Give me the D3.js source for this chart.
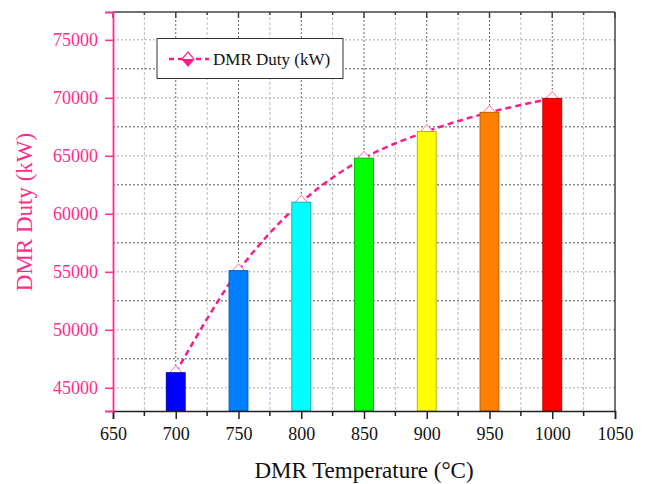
<!DOCTYPE html>
<html>
<head>
<meta charset="utf-8">
<script src="https://cdn.jsdelivr.net/npm/d3@7"></script>
<style>
  body { margin: 0; background: #fff; }
  svg { display: block; }
  text { font-family: "Liberation Serif", "Times New Roman", serif; }
</style>
</head>
<body>
<svg id="chart" width="646" height="484"></svg>
<script>
// ---- data ----
const temperatures = [700, 750, 800, 850, 900, 950, 1000];
const duty = [46300, 55100, 61000, 64800, 67100, 68750, 69950];
const barColors = ["#0000FF", "#0080FF", "#00FFFF", "#00FF00", "#FFFF00", "#FF8000", "#FF0000"];
const xTicks = [650, 700, 750, 800, 850, 900, 950, 1000, 1050];
const yTicks = [45000, 50000, 55000, 60000, 65000, 70000, 75000];
const seriesName = "DMR Duty (kW)";
const xTitle = "DMR Temperature (°C)";
const yTitle = "DMR Duty (kW)";

// ---- layout ----
const W = 646, H = 484;
const m = { left: 113, right: 31, top: 12, bottom: 73 };
const pw = W - m.left - m.right, ph = H - m.top - m.bottom;
const pink = "#FF2D8C";
const lineColor = "#FF1A8C";
const serif = '"Liberation Serif", "Times New Roman", serif';
const barWidthUnits = 15;

const svg = d3.select("#chart");
const g = svg.append("g").attr("transform", `translate(${m.left},${m.top})`);

const x = d3.scaleLinear().domain([650, 1050]).range([0, pw]);
const y = d3.scaleLinear().domain([43000, 77400]).range([ph, 0]);

const xMinor = d3.range(675, 1050, 50);
const yMinor = d3.range(47500, 77400, 5000);

// grid
const grid = g.append("g");
grid.selectAll(".hmaj").data(yTicks).join("line")
  .attr("x1", 0).attr("x2", pw).attr("y1", d => y(d)).attr("y2", d => y(d))
  .attr("stroke", "#aaa").attr("stroke-width", 1).attr("stroke-dasharray", "2,2");
grid.selectAll(".hmin").data(yMinor).join("line")
  .attr("x1", 0).attr("x2", pw).attr("y1", d => y(d)).attr("y2", d => y(d))
  .attr("stroke", "#555").attr("stroke-width", 1).attr("stroke-dasharray", "2,2");
grid.selectAll(".vmaj").data(xTicks.slice(1, -1)).join("line")
  .attr("y1", 0).attr("y2", ph).attr("x1", d => x(d)).attr("x2", d => x(d))
  .attr("stroke", "#666").attr("stroke-width", 1).attr("stroke-dasharray", "2,2");
grid.selectAll(".vmin").data(xMinor).join("line")
  .attr("y1", 0).attr("y2", ph).attr("x1", d => x(d)).attr("x2", d => x(d))
  .attr("stroke", "#bbb").attr("stroke-width", 1).attr("stroke-dasharray", "3,2");

// line (behind bars)
const pts = temperatures.map((t, i) => [t, duty[i]]);
const line = d3.line().x(d => x(d[0])).y(d => y(d[1])).curve(d3.curveCatmullRom.alpha(0.5));
g.append("path").datum(pts).attr("d", line)
  .attr("fill", "none").attr("stroke", lineColor).attr("stroke-width", 2.5)
  .attr("stroke-dasharray", "6,4");

// markers
const diamond = "M0,-7L6,0L0,7L-6,0Z";
g.selectAll(".mk").data(pts).join("path")
  .attr("transform", d => `translate(${x(d[0])},${y(d[1])})`)
  .attr("d", diamond).attr("fill", "#fff").attr("stroke", "#FF6FB0").attr("stroke-width", 1);

// bars
const bw = x(650 + barWidthUnits) - x(650);
g.selectAll(".bar").data(pts).join("rect")
  .attr("x", d => x(d[0]) - bw / 2).attr("width", bw)
  .attr("y", d => y(d[1])).attr("height", d => ph - y(d[1]))
  .attr("fill", (d, i) => barColors[i])
  .attr("stroke", (d, i) => d3.color(barColors[i]).darker(0.9))
  .attr("stroke-width", 1);

// borders
g.append("line").attr("x1", 0).attr("x2", pw).attr("y1", 0).attr("y2", 0).attr("stroke", "#444").attr("stroke-width", 1.5);
g.append("line").attr("x1", pw).attr("x2", pw).attr("y1", 0).attr("y2", ph).attr("stroke", "#444").attr("stroke-width", 1.5);

// top inward ticks
g.selectAll(".ttmaj").data(xTicks).join("line")
  .attr("x1", d => x(d)).attr("x2", d => x(d)).attr("y1", 0).attr("y2", 6)
  .attr("stroke", "#444").attr("stroke-width", 1.5);
g.selectAll(".ttmin").data(xMinor).join("line")
  .attr("x1", d => x(d)).attr("x2", d => x(d)).attr("y1", 0).attr("y2", 3)
  .attr("stroke", "#444").attr("stroke-width", 1.5);

// bottom axis
const xAxis = g.append("g").attr("transform", `translate(0,${ph})`)
  .call(d3.axisBottom(x).tickValues(xTicks).tickSize(8).tickPadding(8).tickFormat(d3.format("d")));
xAxis.attr("font-family", null);
xAxis.select(".domain").attr("stroke", "#222").attr("stroke-width", 1.5);
xAxis.selectAll(".tick line").attr("stroke", "#222").attr("stroke-width", 1.5);
xAxis.selectAll("text").style("font-size", "18px").attr("fill", "#111")
  .style("font-family", serif);
g.append("g").attr("transform", `translate(0,${ph})`)
  .selectAll("line").data(xMinor).join("line")
  .attr("x1", d => x(d)).attr("x2", d => x(d)).attr("y1", 0).attr("y2", 5)
  .attr("stroke", "#222").attr("stroke-width", 1.5);

// left axis
const yAxis = g.append("g")
  .call(d3.axisLeft(y).tickValues(yTicks).tickSize(8).tickPadding(7).tickFormat(d3.format("d")));
yAxis.attr("font-family", null);
yAxis.select(".domain").attr("stroke", pink).attr("stroke-width", 1.8);
yAxis.selectAll(".tick line").attr("stroke", pink).attr("stroke-width", 1.5);
yAxis.selectAll("text").style("font-size", "18px").attr("fill", pink)
  .style("font-family", serif);

// titles
svg.append("text").attr("x", m.left + pw / 2).attr("y", 478)
  .attr("text-anchor", "middle").style("font-size", "23px").attr("fill", "#111").text(xTitle);
svg.append("text").attr("transform", `translate(32,${212}) rotate(-90)`)
  .attr("text-anchor", "middle").style("font-size", "23px").attr("fill", pink).text(yTitle);

// legend
const lg = svg.append("g");
lg.append("rect").attr("x", 157).attr("y", 38.5).attr("width", 186).attr("height", 40)
  .attr("fill", "#fff").attr("stroke", "#333").attr("stroke-width", 1);
lg.append("line").attr("x1", 169).attr("x2", 209).attr("y1", 59).attr("y2", 59)
  .attr("stroke", lineColor).attr("stroke-width", 2.5).attr("stroke-dasharray", "5,4");
lg.append("path").attr("transform", "translate(188,59)").attr("d", diamond)
  .attr("fill", "#fff").attr("stroke", "#FF2D8C").attr("stroke-width", 1.2);
lg.append("path").attr("transform", "translate(188,59)").attr("d", "M-6,0L6,0L0,7Z")
  .attr("fill", "#FF1A8C");
lg.append("text").attr("x", 213).attr("y", 65).style("font-size", "17px").attr("fill", "#111").text(seriesName);
</script>
</body>
</html>
